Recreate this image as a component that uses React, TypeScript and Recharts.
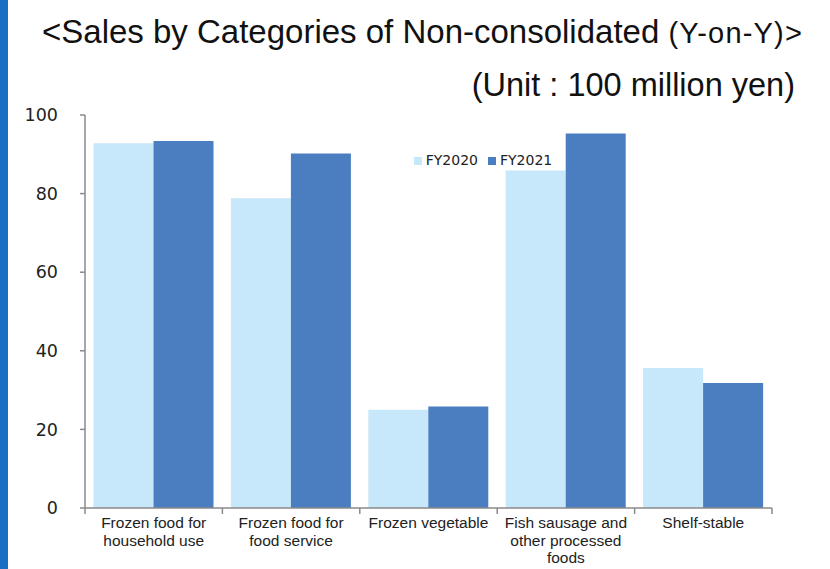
import React from "react";
import { BarChart, Bar, XAxis, YAxis, Legend } from "recharts";

// Sales by product category, non-consolidated (unit: 100 million yen)
const categories = [
  "Frozen food for\nhousehold use",
  "Frozen food for\nfood service",
  "Frozen vegetable",
  "Fish sausage and\nother processed\nfoods",
  "Shelf-stable",
];
const fy2020 = [92.8, 78.8, 25.0, 85.9, 35.6];
const fy2021 = [93.4, 90.2, 25.8, 95.3, 31.8];
const yTicks = [0, 20, 40, 60, 80, 100];

const data = categories.map((name, i) => ({
  name,
  FY2020: fy2020[i],
  FY2021: fy2021[i],
}));

const LIGHT = "#c7e7fa";
const DARK = "#4a7ec0";
const AXIS = "#8a8a8a";

// Category label with tick marks on the band boundaries
const CategoryTick = (props: any) => {
  const { x, y, payload, index } = props;
  const half = payload && typeof payload.offset === "number" ? payload.offset : 0;
  const lines = String(payload.value).split("\n");
  return (
    <g>
      {half > 0 && (
        <line x1={x - half} y1={y} x2={x - half} y2={y + 6} stroke={AXIS} strokeWidth={1.5} />
      )}
      {half > 0 && index === categories.length - 1 && (
        <line x1={x + half} y1={y} x2={x + half} y2={y + 6} stroke={AXIS} strokeWidth={1.5} />
      )}
      <text
        x={x}
        y={y + 20}
        textAnchor="middle"
        fill="#222"
        style={{ fontFamily: "'Liberation Sans', Arial, sans-serif", fontSize: 15.5 }}
      >
        {lines.map((line, i) => (
          <tspan key={i} x={x} dy={i === 0 ? 0 : 17.5}>
            {line}
          </tspan>
        ))}
      </text>
    </g>
  );
};

const legendText = (value: string) => (
  <span style={{ color: "#222", fontFamily: "'DejaVu Sans', Verdana, sans-serif", fontSize: 14 }}>
    {value}
  </span>
);

export default function App() {
  return (
    <div
      style={{
        position: "absolute",
        left: 0,
        top: 0,
        width: 830,
        height: 569,
        background: "#fff",
        overflow: "hidden",
        fontFamily: "'Liberation Sans', Arial, sans-serif",
      }}
    >
      <div style={{ position: "absolute", left: 0, top: 0, width: 8, height: 569, background: "#1a6fc4" }} />
      <div
        style={{
          position: "absolute",
          left: 42,
          top: 12,
          fontSize: 33,
          color: "#111",
          whiteSpace: "nowrap",
          lineHeight: "40px",
        }}
      >
        {"<Sales by Categories of Non-consolidated "}
        <span style={{ fontSize: 29, fontFamily: "'Liberation Sans', Arial, sans-serif", letterSpacing: 1.2 }}>
          (Y-on-Y)&gt;
        </span>
      </div>
      <div
        style={{
          position: "absolute",
          right: 35,
          top: 66,
          fontSize: 32.5,
          color: "#111",
          whiteSpace: "nowrap",
          lineHeight: "38px",
        }}
      >
        (Unit : 100 million yen)
      </div>
      <div style={{ position: "absolute", left: 0, top: 0 }}>
        <BarChart
          width={830}
          height={569}
          data={data}
          margin={{ top: 115, right: 58, bottom: 0, left: 0 }}
          barCategoryGap={8.5}
          barGap={0}
        >
          <XAxis
            dataKey="name"
            height={61}
            interval={0}
            tickLine={false}
            tickSize={0}
            tickMargin={0}
            axisLine={{ stroke: AXIS, strokeWidth: 1.5 }}
            tick={<CategoryTick />}
          />
          <YAxis
            width={85}
            domain={[0, 100]}
            ticks={yTicks}
            interval={0}
            tickSize={5}
            tickMargin={22}
            axisLine={{ stroke: AXIS, strokeWidth: 1.5 }}
            tickLine={{ stroke: AXIS, strokeWidth: 1.5 }}
            tick={{ fill: "#222", fontSize: 17.5, fontFamily: "'DejaVu Sans', Verdana, sans-serif" }}
          />
          <Legend
            layout="horizontal"
            verticalAlign="middle"
            align="center"
            iconType="square"
            iconSize={8}
            formatter={legendText}
            wrapperStyle={{ position: "absolute", top: 151, left: 388, width: 200 }}
          />
          <Bar dataKey="FY2020" fill={LIGHT} isAnimationActive={false} />
          <Bar dataKey="FY2021" fill={DARK} isAnimationActive={false} />
        </BarChart>
      </div>
    </div>
  );
}
